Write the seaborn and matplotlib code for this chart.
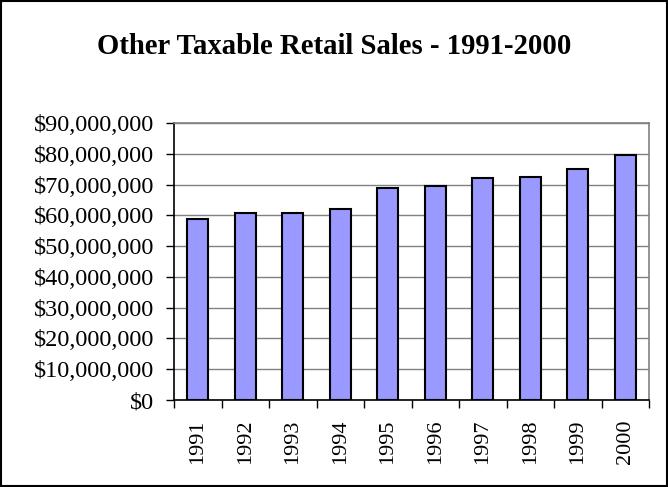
import pandas as pd
import matplotlib
matplotlib.use("Agg")
import matplotlib.pyplot as plt
import seaborn as sns
from matplotlib.patches import Rectangle
from matplotlib.ticker import FuncFormatter

# values
years = ["1991", "1992", "1993", "1994", "1995", "1996", "1997", "1998", "1999", "2000"]
sales = [58.9e6, 60.7e6, 60.7e6, 62.0e6, 68.8e6, 69.4e6, 72.0e6, 72.6e6, 75.2e6, 79.6e6]
y_ticks = list(range(0, 90_000_001, 10_000_000))

df = pd.DataFrame({"year": years, "sales": sales})

sns.set_style("white")
plt.rcParams["font.family"] = ["Liberation Serif", "DejaVu Serif"]
plt.rcParams["text.color"] = "black"
plt.rcParams["xtick.color"] = "black"
plt.rcParams["ytick.color"] = "black"

fig = plt.figure(figsize=(6.68, 4.87), dpi=100)
ax = fig.add_axes([174 / 668, 1 - 400 / 487, (649 - 174) / 668, (400 - 123) / 487])

sns.barplot(data=df, x="year", y="sales", color="#9999FF", edgecolor="black",
            linewidth=1.5, width=0.44, saturation=1, ax=ax)

ax.set_ylim(0, 90_000_000)
ax.set_xlim(-0.5, len(years) - 0.5)
ax.set_yticks(y_ticks)
ax.yaxis.set_major_formatter(FuncFormatter(lambda v, p: f"${v:,.0f}"))
ax.grid(axis="y", color="#808080", linewidth=1)
ax.set_axisbelow(True)
ax.set_xlabel("")
ax.set_ylabel("")

# tick marks between the categories, labels centred under the bars
ax.set_xticks([i - 0.5 for i in range(len(years) + 1)], minor=True)
ax.tick_params(axis="x", which="minor", length=6, width=1, color="black", bottom=True)
ax.tick_params(axis="x", which="major", length=0, labelsize=16, labelrotation=90, pad=14)
ax.tick_params(axis="y", length=6, width=1, color="black", left=True, labelsize=17.5, pad=8)

for side in ["left", "bottom"]:
    ax.spines[side].set_color("black")
    ax.spines[side].set_linewidth(1.2)
for side in ["top", "right"]:
    ax.spines[side].set_color("#808080")
    ax.spines[side].set_linewidth(1.2)

fig.text(0.5, 1 - 46 / 487, "Other Taxable Retail Sales - 1991-2000",
         ha="center", va="center", fontsize=20.7, fontweight="bold")

fig.patches.append(Rectangle((0.002, 0.002), 0.996, 0.996, transform=fig.transFigure,
                             fill=False, edgecolor="black", linewidth=1.5))

fig.savefig("out.png", dpi=100)
